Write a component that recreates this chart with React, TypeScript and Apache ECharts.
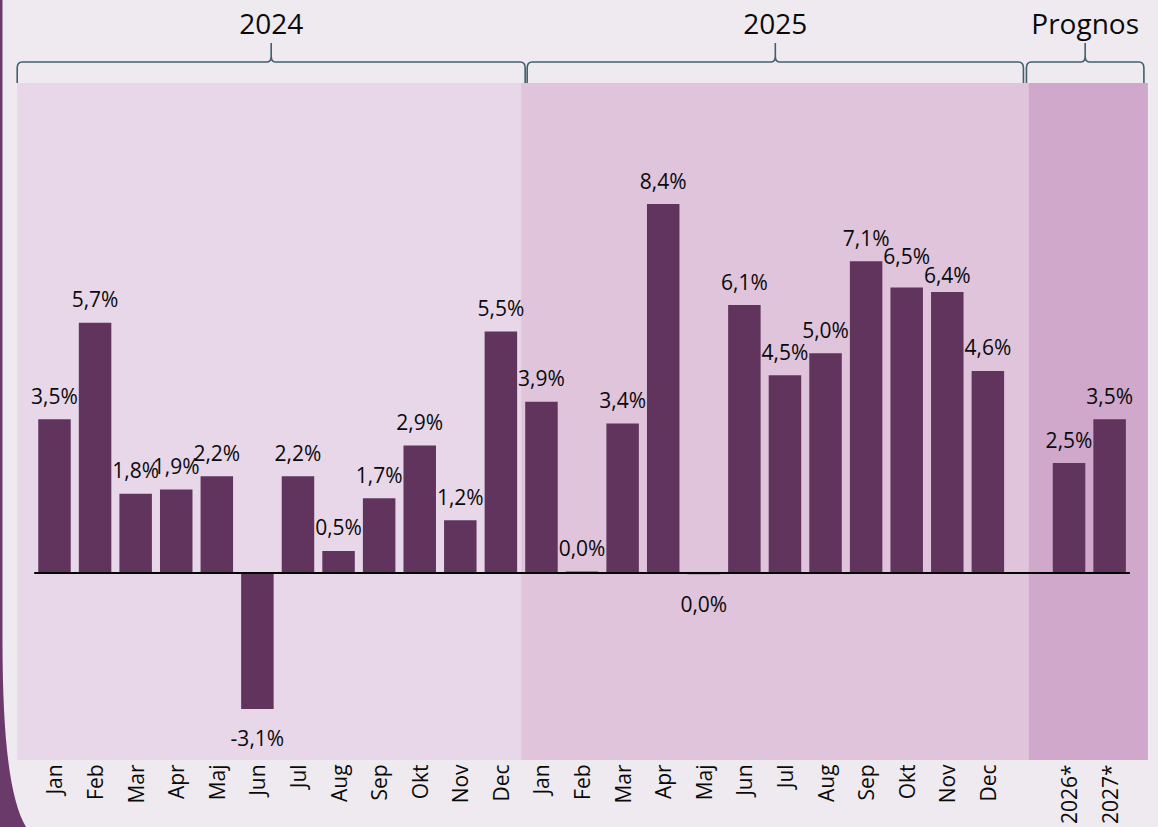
import { useEffect, useRef } from 'react';
import * as echarts from 'echarts';

const months = ['Jan', 'Feb', 'Mar', 'Apr', 'Maj', 'Jun', 'Jul', 'Aug', 'Sep', 'Okt', 'Nov', 'Dec'];
const forecastCategories = ['2026*', '2027*'];
const categories = [...months, ...months, '', ...forecastCategories];
const values2024 = [3.5, 5.7, 1.8, 1.9, 2.2, -3.1, 2.2, 0.5, 1.7, 2.9, 1.2, 5.5];
const values2025 = [3.9, 0.03, 3.4, 8.4, -0.03, 6.1, 4.5, 5.0, 7.1, 6.5, 6.4, 4.6];
const forecastValues = [2.5, 3.5];
const groupLabels = ['2024', '2025', 'Prognos'];

const FONT = '"Open Sans", sans-serif';
const BAR = '#61345e';
const BG = '#efeaef';
const SHADE = ['#e8d7e8', '#dfc4dc', '#cfa8cb'];
const BRACE = '#40616c';
const TEXT = '#0a0a0a';

const fmt = (v: number) => (Math.round(v * 10) / 10).toFixed(1).replace('.', ',') + '%';

const Brace = echarts.graphic.extendShape({
  shape: { x1: 0, x2: 100, y: 62, top: 43, bottom: 83 },
  buildPath(ctx: any, s: any) {
    const m = (s.x1 + s.x2) / 2;
    ctx.moveTo(s.x1, s.bottom);
    ctx.lineTo(s.x1, s.y + 6);
    ctx.quadraticCurveTo(s.x1, s.y, s.x1 + 5, s.y);
    ctx.lineTo(m - 4, s.y);
    ctx.quadraticCurveTo(m, s.y, m, s.y - 6);
    ctx.lineTo(m, s.top);
    ctx.moveTo(m, s.y - 6);
    ctx.quadraticCurveTo(m, s.y, m + 4, s.y);
    ctx.lineTo(s.x2 - 5, s.y);
    ctx.quadraticCurveTo(s.x2, s.y, s.x2, s.y + 6);
    ctx.lineTo(s.x2, s.bottom);
  },
});
echarts.graphic.registerShape('brace', Brace);
echarts.graphic.registerShape(
  'leftEdge',
  echarts.graphic.extendPath('M0 0 L2.5 0 L2.5 640 C2.5 740 10 800 26 827 L0 827 Z', {})
);

// label nudges as placed in the original (Okt and Nov 2025)
const labelDistanceFor = (i: number, v: number) => {
  if (v < 0) return 19;
  if (i === 12 + 9) return 21;
  if (i === 12 + 10) return 6;
  return 13;
};

export default function App() {
  const ref = useRef<HTMLDivElement>(null);
  useEffect(() => {
    const el = ref.current!;
    const chart = echarts.init(el, null, { renderer: 'svg' });
    const raw: (number | null)[] = [...values2024, ...values2025, null, ...forecastValues];
    const data: any[] = raw.map((v, i) =>
      v === null ? '-' : { value: v, label: { distance: labelDistanceFor(i, v) } }
    );
    chart.setOption({
      animation: false,
      backgroundColor: BG,
      grid: { left: 34.2, right: 28.1, top: 90, bottom: 77, containLabel: false },
      xAxis: {
        type: 'category',
        data: categories,
        axisLine: { show: false, onZero: false },
        axisTick: { show: false },
        axisLabel: { interval: 0, rotate: 90, margin: 16, fontSize: 21, fontFamily: FONT, color: TEXT },
      },
      yAxis: { type: 'value', min: -4, max: 11, show: false },
      series: [
        {
          type: 'bar',
          data,
          barWidth: 32.5,
          z: 3,
          itemStyle: { color: BAR },
          label: {
            show: true,
            position: 'outside',
            distance: 13,
            fontSize: 21,
            fontFamily: FONT,
            color: TEXT,
            formatter: (p: any) => fmt(p.value),
          },
          markLine: {
            silent: true,
            symbol: ['none', 'none'],
            label: { show: false },
            lineStyle: { color: '#000', width: 2, type: 'solid' },
            data: [{ yAxis: 0 }],
          },
        },
      ],
    });

    const cx = (i: number) => chart.convertToPixel({ xAxisIndex: 0 }, i) as number;
    const band = cx(1) - cx(0);
    const gridL = cx(0) - band / 2;
    const gridR = cx(categories.length - 1) + band / 2;
    const split1 = gridL + values2024.length * band;
    const split2 = cx(values2024.length + values2025.length);
    const shadeL = gridL - 17;
    const shadeR = gridR + 18;
    const top = 83;
    const bottom = 760;
    const spans = [
      [shadeL, split1],
      [split1, split2],
      [split2, shadeR],
    ];
    const braces = [
      [shadeL, split1 + 4],
      [split1 + 6, split2 - 5],
      [split2 - 2, shadeR - 4],
    ];
    const graphic: any[] = [];
    spans.forEach(([a, b], i) => {
      graphic.push({
        type: 'rect',
        z: 0,
        shape: { x: a, y: top, width: b - a, height: bottom - top },
        style: { fill: SHADE[i] },
      });
    });
    braces.forEach(([a, b], i) => {
      graphic.push({
        type: 'brace',
        z: 1,
        shape: { x1: a, x2: b, y: 62, top: 43, bottom: top },
        style: { stroke: BRACE, lineWidth: 1.6, fill: 'none' },
      });
      graphic.push({
        type: 'text',
        z: 1,
        x: (a + b) / 2,
        y: 23,
        style: {
          text: groupLabels[i],
          fill: TEXT,
          fontSize: 28,
          fontFamily: FONT,
          align: 'center',
          verticalAlign: 'middle',
        },
      });
    });
    graphic.push({ type: 'leftEdge', x: 0, y: 0, z: 1, style: { fill: '#6a3a6a' } });
    chart.setOption({ graphic });

    return () => chart.dispose();
  }, []);
  return <div ref={ref} style={{ position: 'fixed', left: 0, top: 0, width: 1158, height: 827 }} />;
}
